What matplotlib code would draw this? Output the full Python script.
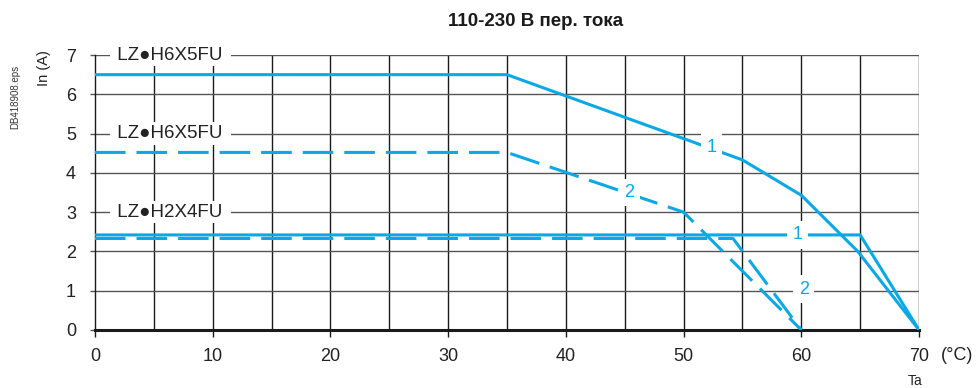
import matplotlib
matplotlib.use('Agg')
import matplotlib.pyplot as plt

plt.rcParams['font.family'] = ['Liberation Sans', 'DejaVu Sans']

BLUE = '#0aa8e4'

# courbes (Ta en °C, In en A)
h6_solid_x = [0, 35, 55, 60, 64.8, 70]
h6_solid_y = [6.5, 6.5, 4.33, 3.43, 2.0, 0]
h6_dash_x = [0, 35, 50, 60]
h6_dash_y = [4.52, 4.52, 3.0, 0]
h2_solid_x = [0, 65, 70]
h2_solid_y = [2.42, 2.42, 0]
h2_dash_x = [0, 54.2, 60]
h2_dash_y = [2.33, 2.33, 0]

series_labels = ['LZ●H6X5FU', 'LZ●H6X5FU', 'LZ●H2X4FU']
series_label_y = [7, 5, 3]
curve_tags = [('1', 52.4, 4.65), ('2', 45.4, 3.5), ('1', 59.7, 2.42), ('2', 60.2, 1.04)]

x_ticks = [0, 10, 20, 30, 40, 50, 60, 70]
y_ticks = [0, 1, 2, 3, 4, 5, 6, 7]

fig = plt.figure(figsize=(9.78, 3.88), dpi=100)
ax = fig.add_axes([0.0971, 0.1495, 0.8426, 0.7087])

ax.set_xlim(0, 70)
ax.set_ylim(0, 7)

# grille
for x in range(5, 75, 5):
    ax.axvline(x, color='#1a1a1a', lw=1.0, zorder=1)
for y in y_ticks[1:]:
    ax.axhline(y, color='#555555', lw=1.0, zorder=1)

ax.plot(h6_solid_x, h6_solid_y, color=BLUE, lw=2.2, zorder=3, solid_joinstyle='round')
ax.plot(h6_dash_x, h6_dash_y, color=BLUE, lw=2.2, dashes=(10, 3.6), zorder=3)
ax.plot(h2_solid_x, h2_solid_y, color=BLUE, lw=2.2, zorder=3)
ax.plot(h2_dash_x, h2_dash_y, color=BLUE, lw=2.2, dashes=(10, 3.6), zorder=3)

for lab, y in zip(series_labels, series_label_y):
    ax.text(6.4, y, ' ' + lab + ' ', ha='center', va='center', fontsize=13.5,
            color='#222222', zorder=6,
            bbox=dict(boxstyle='square,pad=0.15', fc='white', ec='none'))

for tag, x, y in curve_tags:
    ax.text(x, y, tag, ha='center', va='center', fontsize=13, color=BLUE, zorder=6,
            bbox=dict(boxstyle='square,pad=0.3', fc='white', ec='none'))

for s in ['top', 'right']:
    ax.spines[s].set_visible(False)
ax.spines['left'].set_color('#1a1a1a')
ax.spines['left'].set_linewidth(1.0)
ax.spines['bottom'].set_color('#1a1a1a')
ax.spines['bottom'].set_linewidth(2.2)

ax.set_xticks(x_ticks)
ax.set_yticks(y_ticks)
ax.tick_params(axis='x', length=5, width=1, color='#1a1a1a', pad=8, labelsize=13, labelcolor='#222222')
ax.tick_params(axis='y', length=3.6, width=1, color='#555555', pad=10, labelsize=13, labelcolor='#222222')

ax.text(-0.062, 0.954, 'In (A)', transform=ax.transAxes, rotation=90,
        ha='center', va='center', fontsize=10.5, color='#222222')
fig.text(15 / 978, 1 - 97 / 388, 'DB418908.eps', rotation=90, ha='center', va='center',
         fontsize=7, color='#333333')
fig.text(957 / 978, 1 - 355 / 388, '(°C)', ha='center', va='center', fontsize=13, color='#222222')
fig.text(915 / 978, 1 - 381 / 388, 'Ta', ha='center', va='center', fontsize=10, color='#222222')
fig.text(536 / 978, 1 - 22 / 388, '110-230 В пер. тока', ha='center', va='center',
         fontsize=13.5, fontweight='bold', color='#1a1a1a')

plt.savefig('out.png', dpi=100)
